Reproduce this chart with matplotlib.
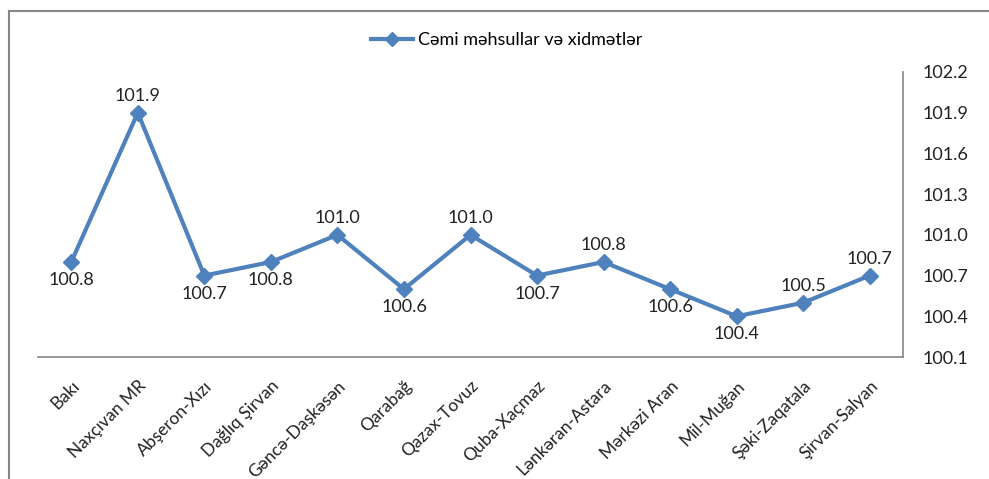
import matplotlib
matplotlib.use("Agg")
import matplotlib.pyplot as plt
from matplotlib.lines import Line2D

plt.rcParams["font.family"] = ["Lato", "DejaVu Sans"]

REGIONS = [
    "Bakı", "Naxçıvan MR", "Abşeron-Xızı", "Dağlıq Şirvan", "Gəncə-Daşkəsən",
    "Qarabağ", "Qazax-Tovuz", "Quba-Xaçmaz", "Lənkəran-Astara", "Mərkəzi Aran",
    "Mil-Muğan", "Şəki-Zaqatala", "Şirvan-Salyan",
]
VALUES = [100.8, 101.9, 100.7, 100.8, 101.0, 100.6, 101.0, 100.7, 100.8, 100.6,
          100.4, 100.5, 100.7]
LABEL_SIDE = ["below", "above", "below", "below", "above", "below", "above",
              "below", "above", "below", "below", "above", "above"]
Y_TICKS = [100.1, 100.4, 100.7, 101.0, 101.3, 101.6, 101.9, 102.2]
SERIES_NAME = "Cəmi məhsullar və xidmətlər"

LINE_COLOR = "#4F81BD"
AXIS_COLOR = "#868686"
TEXT_COLOR = "#222222"

fig = plt.figure(figsize=(9.89, 4.79), dpi=100)
ax = fig.add_axes([38 / 989, 1 - 357 / 479, (903 - 38) / 989, (357 - 72) / 479])

x = list(range(len(REGIONS)))
ax.plot(x, VALUES, color=LINE_COLOR, linewidth=3, marker="D", markersize=8,
        markeredgecolor=LINE_COLOR, markerfacecolor=LINE_COLOR, zorder=3)

for xi, v, side in zip(x, VALUES, LABEL_SIDE):
    dy = 12 if side == "above" else -13
    ax.annotate(f"{v:.1f}", xy=(xi, v), xytext=(0, dy), textcoords="offset points",
                ha="center", va="center", fontsize=13, color=TEXT_COLOR)

ax.set_xlim(-0.5, len(REGIONS) - 0.5)
ax.set_ylim(Y_TICKS[0], Y_TICKS[-1])
ax.set_yticks(Y_TICKS)
ax.set_yticklabels([f"{t:.1f}" for t in Y_TICKS], fontsize=13, color=TEXT_COLOR)
ax.yaxis.tick_right()
ax.tick_params(axis="y", length=0, pad=14)
ax.set_xticks(x)
ax.set_xticklabels(REGIONS, rotation=45, ha="right", va="top",
                   rotation_mode="anchor", fontsize=12.5, color=TEXT_COLOR)
ax.tick_params(axis="x", length=0, pad=15)

for side in ["left", "top"]:
    ax.spines[side].set_visible(False)
for side in ["right", "bottom"]:
    ax.spines[side].set_color(AXIS_COLOR)
    ax.spines[side].set_linewidth(1.2)

handle = Line2D([], [], color=LINE_COLOR, linewidth=3, marker="D", markersize=7)
fig.legend([handle], [SERIES_NAME], loc="center", bbox_to_anchor=(507 / 989, 1 - 40 / 479),
           frameon=False, fontsize=13, handlelength=2.3, handletextpad=0.3)

# outer chart border (left and top edges visible)
fig.add_artist(Line2D([9 / 989, 9 / 989], [1 - 11 / 479, 0], transform=fig.transFigure,
                      color=AXIS_COLOR, linewidth=1.5))
fig.add_artist(Line2D([9 / 989, 1], [1 - 11 / 479, 1 - 11 / 479], transform=fig.transFigure,
                      color=AXIS_COLOR, linewidth=1.5))

fig.savefig("out.png", dpi=100)
